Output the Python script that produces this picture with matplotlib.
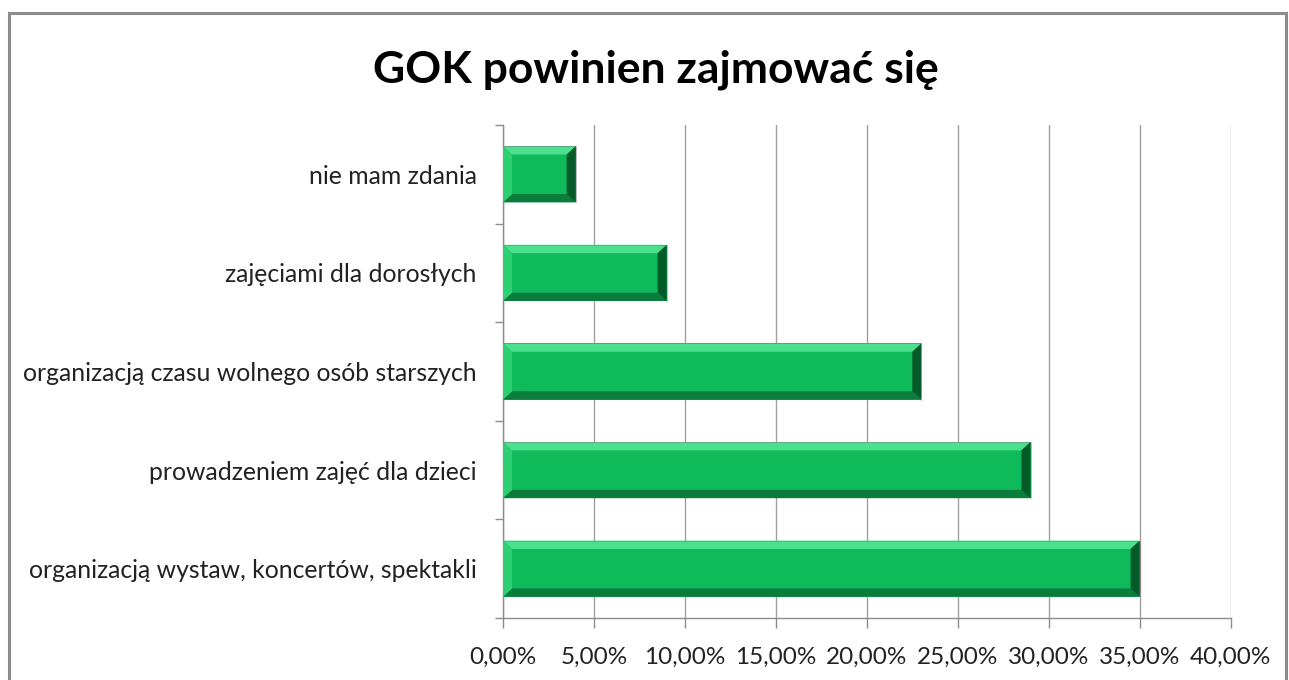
import matplotlib
matplotlib.use('Agg')
import matplotlib.pyplot as plt
from matplotlib.patches import Polygon, Rectangle
from matplotlib.ticker import FuncFormatter, MultipleLocator

plt.rcParams['font.family'] = ['Lato', 'DejaVu Sans']

categories = ['organizacją wystaw, koncertów, spektakli',
              'prowadzeniem zajęć dla dzieci',
              'organizacją czasu wolnego osób starszych',
              'zajęciami dla dorosłych',
              'nie mam zdania']
values = [0.35, 0.29, 0.23, 0.09, 0.04]
title = 'GOK powinien zajmować się'

fig = plt.figure(figsize=(12.89, 6.8), dpi=100)
# outer chart frame
fig.patches.append(Rectangle((9 / 1289, -0.01), 1277 / 1289, 1 - 13 / 680 + 0.01,
                             transform=fig.transFigure, fill=False,
                             edgecolor='#8c8c8c', linewidth=2.2))
ax = fig.add_axes([503 / 1289, 62 / 680, 728 / 1289, 493 / 680])

bar_h = 0.57
main = '#0fba5b'
top_c = '#4be08d'
bot_c = '#0a7d3d'
right_c = '#055a2a'
left_c = '#2ccf72'
bx = 0.005    # bevel size in x (data units)
by = 0.085    # bevel size in y

for i, v in enumerate(values):
    y0, y1 = i - bar_h / 2, i + bar_h / 2
    ax.add_patch(Rectangle((0, y0), v, bar_h, facecolor=main, edgecolor='none', zorder=3))
    # top bevel
    ax.add_patch(Polygon([(0, y1), (v, y1), (v - bx, y1 - by), (bx, y1 - by)],
                         closed=True, facecolor=top_c, edgecolor='none', zorder=4))
    # bottom bevel
    ax.add_patch(Polygon([(0, y0), (v, y0), (v - bx, y0 + by), (bx, y0 + by)],
                         closed=True, facecolor=bot_c, edgecolor='none', zorder=4))
    # right bevel
    ax.add_patch(Polygon([(v, y0), (v, y1), (v - bx, y1 - by), (v - bx, y0 + by)],
                         closed=True, facecolor=right_c, edgecolor='none', zorder=4))
    # left bevel
    ax.add_patch(Polygon([(0, y0), (0, y1), (bx, y1 - by), (bx, y0 + by)],
                         closed=True, facecolor=left_c, edgecolor='none', zorder=4))
    ax.plot([0, v, v], [y1, y1, y0], color='#7a7a7a', linewidth=0.6, zorder=5, alpha=0.6)

ax.set_xlim(0, 0.4002)
ax.set_ylim(-0.5, len(categories) - 0.5)
ax.xaxis.set_major_locator(MultipleLocator(0.05))
ax.xaxis.set_major_formatter(FuncFormatter(lambda x, p: f'{x * 100:.2f}%'.replace('.', ',')))
ax.set_yticks(range(len(categories)))
ax.set_yticklabels(categories)
ax.set_yticks([i - 0.5 for i in range(len(categories) + 1)], minor=True)
ax.tick_params(axis='y', which='major', length=0, pad=19, labelsize=17.8, colors='#222222')
ax.tick_params(axis='y', which='minor', length=6, width=1, color='#8c8c8c', direction='out')
ax.tick_params(axis='x', length=7, width=1, color='#8c8c8c', pad=14, labelsize=17.5,
               labelcolor='#222222')
ax.grid(axis='x', color='#a0a0a0', linewidth=1, zorder=0)
ax.set_axisbelow(True)
for s in ['top', 'right']:
    ax.spines[s].set_visible(False)
for s in ['left', 'bottom']:
    ax.spines[s].set_color('#8c8c8c')
    ax.spines[s].set_linewidth(1)

fig.text(656 / 1289, 1 - 70 / 680, title, ha='center', va='center',
         fontsize=32, fontweight='bold', color='#000000')

fig.savefig('out.png', dpi=100)
